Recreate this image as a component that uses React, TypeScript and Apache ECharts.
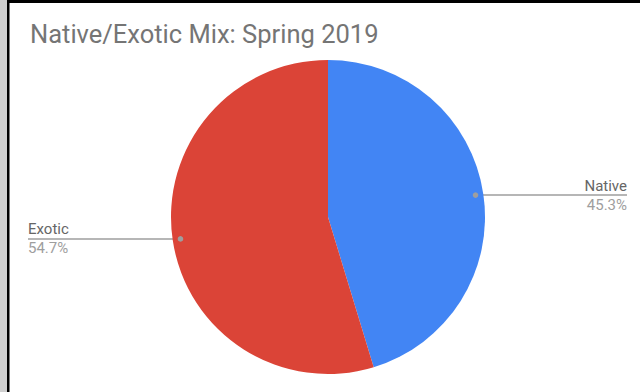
import React, { useEffect, useRef } from "react";
import * as echarts from "echarts";

const TITLE = "Native/Exotic Mix: Spring 2019";
const categories = ["Native", "Exotic"];
const values = [45.3, 54.7];
const colors = ["#4285F4", "#DB4437"];

const CX = 328;
const CY = 217;
const R = 157;
const DOT_R = 0.95 * R;
const LEFT_END = 28;
const RIGHT_END = 627;

function dotPoint(i: number): [number, number] {
  const total = values.reduce((a, b) => a + b, 0);
  let before = 0;
  for (let k = 0; k < i; k++) before += values[k];
  const mid = ((before + values[i] / 2) / total) * Math.PI * 2; // from top, clockwise
  return [CX + DOT_R * Math.sin(mid), CY - DOT_R * Math.cos(mid)];
}

export default function App() {
  const ref = useRef<HTMLDivElement>(null);
  useEffect(() => {
    if (!ref.current) return;
    const chart = echarts.init(ref.current, undefined, { renderer: "svg" });
    const dots = categories.map((_, i) => {
      const [x, y] = dotPoint(i);
      return {
        type: "circle",
        shape: { cx: x, cy: y, r: 2.8 },
        style: { fill: "#9e9e9e" },
        z: 100,
      };
    });
    chart.setOption({
      animation: false,
      backgroundColor: "#ffffff",
      title: {
        text: TITLE,
        left: 25,
        top: 16,
        textStyle: {
          fontFamily: "Roboto",
          fontSize: 25.5,
          fontWeight: "normal",
          color: "#757575",
        },
      },
      graphic: [
        { type: "rect", shape: { x: 0, y: 0, width: 7, height: 392 }, style: { fill: "#cfcfcf" }, z: 100 },
        { type: "rect", shape: { x: 7, y: 0, width: 2.5, height: 392 }, style: { fill: "#000000" }, z: 100 },
        { type: "rect", shape: { x: 7, y: 0, width: 633, height: 3 }, style: { fill: "#000000" }, z: 100 },
        ...dots,
      ],
      series: [
        {
          type: "pie",
          center: [CX, CY],
          radius: R,
          startAngle: 90,
          clockwise: true,
          data: categories.map((c, i) => ({
            name: c,
            value: values[i],
            itemStyle: { color: colors[i] },
          })),
          label: {
            show: true,
            position: "outside",
            formatter: (p: any) => `{n|${p.name}}\n{p|${p.value.toFixed(1)}%}`,
            rich: {
              n: { fontFamily: "Roboto", fontSize: 15, color: "#666666", lineHeight: 19 },
              p: { fontFamily: "Roboto", fontSize: 15, color: "#9e9e9e", lineHeight: 19 },
            },
          },
          labelLine: {
            show: true,
            length: 10,
            length2: 10,
            lineStyle: { color: "#9e9e9e", width: 1.5 },
          },
          labelLayout: (params: any) => {
            const [dx, dy] = dotPoint(params.dataIndex);
            const isLeft = dx < CX;
            const endX = isLeft ? LEFT_END : RIGHT_END;
            return {
              x: endX,
              y: dy,
              align: isLeft ? "left" : "right",
              verticalAlign: "middle",
              labelLinePoints: [
                [dx, dy],
                [dx, dy],
                [endX, dy],
              ],
            };
          },
        },
      ],
    });
    return () => chart.dispose();
  }, []);
  return (
    <div
      ref={ref}
      style={{ position: "absolute", left: 0, top: 0, width: 640, height: 392 }}
    />
  );
}
